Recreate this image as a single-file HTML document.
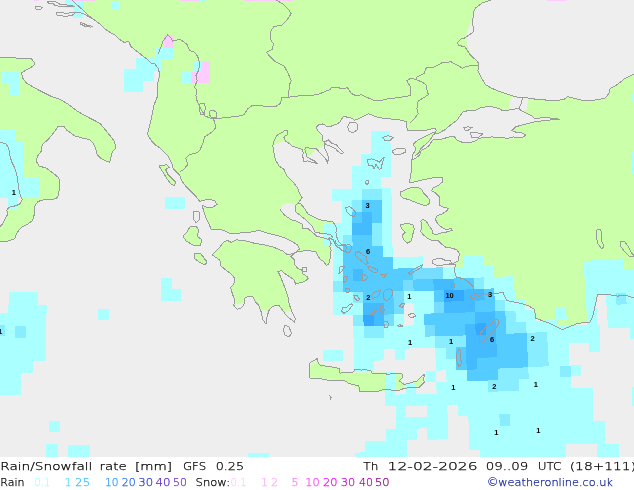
<!DOCTYPE html>
<html><head><meta charset="utf-8"><title>Rain/Snowfall rate [mm] GFS 0.25</title>
<style>
html,body{margin:0;padding:0;background:#fff;}
#w{position:relative;width:634px;height:490px;overflow:hidden;background:#fff;}
.t{position:absolute;font-family:"Liberation Sans",Arial,sans-serif;white-space:nowrap;line-height:1;}
</style></head><body><div id="w">
<svg width="634" height="457" viewBox="0 0 634 457" style="position:absolute;left:0;top:0"><rect width="634" height="457" fill="#ccffaa"/><polygon points="0,0 72,0 76,4 83,10 88,15 93,19 100,24 104,28 108.5,31.5 115,35 119,39 124,42.4 128.7,41.6 131,46.7 137.5,51.7 143.8,56.8 148,60 151,63 155,64 158,68 160,75 157,85 158,95 154,105 151.4,118 148.9,128.1 147.6,134.4 151.4,140.7 156.5,145.8 160,148 163,150.8 168.1,155.9 171.9,163.4 173.1,168.5 176.9,172.3 179.5,174.8 182,181.1 185.8,186.1 190.8,191.2 195.9,196.2 199.6,201.3 205,200 210,199.5 215,201 217,204.5 212,207.5 206,207 202.2,205.1 203.4,210.1 206,217.7 208.5,222.7 211,229 216,229 223.6,230.3 231.2,234 241.3,232.8 251.4,232 259,230.3 266.5,232.8 276.6,235.4 284,237.5 291,241 297,244.5 299.5,249 296,252 290.5,254.4 290.5,254.4 286.7,254.2 282.9,251.1 274.1,247.4 264,244.8 253.9,243.1 246.3,241 236.2,239.8 231.2,242.3 227.4,240.5 223.6,242.3 218.6,248.6 212.3,254.9 212.3,254.9 216,257.5 219.8,260 221.1,266.3 226.1,270.1 231.2,273.9 235,278.9 233.7,284 230.7,287.7 232.4,294 235,300.4 233.7,305.4 237.5,309.2 241.3,307.9 243.8,305.4 245.1,297.8 248.9,296.1 252.6,296.6 255.2,301.6 258.9,305.4 261.5,313 262.7,319.3 266,324.3 267,316.8 269,310.4 272.8,306.2 279.1,305.4 281.7,309.2 285.4,314.2 289.2,318 294.3,321.8 295.5,319.3 291.8,311.7 289.2,304.1 288,296.6 285.4,289 282.9,282.7 280.4,276.4 277.9,271.3 281.7,270.8 285.4,273.9 289.2,276.4 294.3,280.2 295.5,284 300.6,282.7 304.4,281.4 308.2,278.9 306.9,276.4 303.1,273.9 301.8,270.1 298.1,268.8 294.3,263.8 294.3,260 291,256.5 291,256.5 295.5,252.4 301.8,251.1 309.4,250.6 316,252 319.8,259 323.6,261.5 326.1,265.3 328.6,264.1 330.5,257.8 331.1,250.2 329.9,246.4 330.5,242.6 328.6,237.6 333.1,239.7 335.9,245.2 338.6,247.9 341.4,249.8 345,251.6 346.5,248 345,244.3 341.4,244.3 338.6,241.5 336.8,236.9 335.9,232.3 336.7,228.1 334.5,224.2 332.8,221.9 326.1,220.8 319.4,219.7 314.9,217.4 308.1,214.1 303.7,207.3 300.3,203.4 297.5,204 302.1,197.6 299.4,193 297.5,187.5 292.9,182 287.4,176.5 283.8,169.2 279.1,166 275.4,159.6 274.1,153.3 272.8,145.8 283.9,140.2 299.1,149.7 308.5,156.6 315.5,150.3 324.3,145.3 326.8,154.1 323,140.2 320.5,135.2 316.1,127.6 321.8,123.2 325.6,125.1 331.9,125.7 338.2,121.9 343.3,116.5 350.9,117.7 354.6,120.2 360.9,117.7 368.5,113.9 372.3,115.2 378.6,117.7 391.2,119 401.3,120.2 404,121 406.6,122 406.6,126.9 407.9,131 417.2,130.6 424.6,131 427.9,129.8 432.8,128.5 435.6,128.9 436.4,130.6 435.2,132.2 432.8,132.6 429.5,134.2 427,135.5 423,137.5 418.9,139.6 415.6,142 413.6,143.6 414,145.7 415.2,147.3 415.6,149.8 414.8,151.8 413.2,153.4 412.8,155.5 411.9,160 411.9,163.4 411.4,171 409.5,181.6 410.1,182.9 415.2,181.6 426.5,179.1 432.9,177.9 442.3,177.2 442.9,181.6 438.2,185.5 432.7,188.3 431.8,191 435.4,192.8 440,197.4 439.1,201.1 440,205.7 444.6,207.5 448.3,208.4 446.5,211.2 441.9,213.9 437.3,215.8 435.4,219.4 437.3,223.1 440,225.9 443.7,228.6 447.4,229.5 451,228.6 452,230.5 445.5,232.3 440,233.2 435.4,235 432.7,233.2 431.8,229.5 429,225.9 426.3,221.3 422.6,219.4 420.8,221.3 421.7,225.9 420.8,231.4 423.5,235 428.1,238.7 432.7,240.6 438.2,240.6 441.9,244.2 445.5,247 451,247.9 456.6,249.7 459.3,253.4 458.4,260.7 452.9,263.5 449.2,264.4 455.7,264.5 454.1,270.8 456.5,277.1 463.6,278.7 468.3,281.8 473.1,286.5 474,293 489,294.4 499.2,293 503,292.6 506.8,300.7 514.4,302 524.5,304.4 528.3,305.7 534.6,309.5 535.8,318.3 549.7,323.4 562.3,329.7 577.5,323.4 590,322.1 592.6,317 595.1,305.7 597.7,294.4 607.8,294.4 617.8,296.1 625.4,295.1 634,298 634,457 0,457 0,241.5 8,241 13,239.5 15.1,238 16.4,234.1 18.9,230.3 22.7,226.5 27.8,224 32.8,220.2 34.1,215.2 34.1,208.9 35.3,205.3 38.2,201.4 45.1,199.4 52.9,199.4 57.8,197.5 58.8,192.5 59.8,184.7 58.8,177.8 52.9,172.9 46.1,168 39.2,166.1 36.3,161.2 37.3,156.3 41.2,151.4 42.2,144.5 48,139.6 52.9,133.7 57.8,126.9 60.6,126.8 64.4,126.8 66.9,130.6 69.4,131.9 74.4,135.7 80.8,137.7 89.6,139.5 93.4,143.2 95.9,149.5 97.2,154.6 100.9,158.4 106,160.9 109.8,162.2 111,157.1 112.3,152.1 115.6,148.3 114.8,142 111,136.9 106,130.6 100.9,124.3 94.6,120.5 89.6,118 83.3,114.8 75.7,110 67,103.5 60.6,99.7 50.5,96 40.4,91 33,87 26.5,83 22.7,78 21.5,73 25,70.7 31.6,67 34.6,64.4 34,62 31,58.5 0,57.5" fill="#eeeeee"/><polygon points="0,142.5 5.9,143.5 8.8,148.4 9.8,155.3 11.8,162.2 14.7,168 16.7,173.9 17.6,178.8 18.6,188.6 20.6,196.5 22.5,199.4 19.6,204.3 13.7,206.3 8.8,207.3 6.9,210.2 7.8,214.1 5,218.9 2.5,224 0,226.5 0,142.5" fill="#eeeeee"/><polygon points="491,0 482,3 476,7.6 473.7,11.4 470,25 466,35 467.4,45.4 470,52 474,59.3 477.8,61.8 479,65.6 477.8,70.7 481.6,78.2 485.4,84.5 491.7,88.3 499.2,91.4 506.8,93.9 514.4,96.4 522,97.9 527,97.9 533.3,98.9 542.1,99.7 549.7,100.4 557.3,100.2 563.6,99.7 567.4,96.7 569.9,97.2 574.9,98.4 585,100.9 592.6,100.4 600.2,99.2 605.2,97.9 609,93.4 610.3,88.3 615.3,85.8 620.4,82 625.4,78.2 634,73.9 634,0" fill="#eeeeee"/><polygon points="414.8,155.9 417.2,154.2 419.3,152.2 420.5,148.9 423.8,145.7 427,143.2 429.5,140.8 431.9,137.1 433.2,134.2 436,133.8 439.3,133 442.6,131 445,129.8 451,124.7 457.3,120 460.4,115.2 463,112 468.3,110.5 474.6,110.5 481.6,107.3 490.4,106.5 499.2,108.5 503,111 509,110 512,109.5 518.2,108.5 522,111 532,116 534.6,118.6 544.7,117.4 554.8,118.6 560,119.3 554.8,119.6 544.7,120.5 534.6,121.8 524.5,124.3 515.6,126.8 511.9,130.6 516.9,132.6 523.2,133.1 525.7,135.2 522,137.7 513.1,136.9 508.1,138.2 499.2,137.7 491.7,136.9 479,138.2 476.2,140.5 471.5,142.1 463.6,142.8 457.3,140.5 454.1,136.5 446.2,137.3 445,138.3 442.6,138.7 440.1,139.6 436,139.1 433.2,139.6 431.1,142.4 429.5,144.9 427,147.3 425.4,148.5 422.6,149.8 420.5,151.4 420.1,154.2 418.1,156.3 415.6,158.3 411.9,160 412.8,155.5" fill="#eeeeee"/><polygon points="509,110 510,103 511,97.5 522,97.9 528.5,98.5 527.5,104 526.5,110.5 522,111 518.2,108.5" fill="#eeeeee"/><polygon points="295.8,205.1 295.8,211.8 301.4,216.3 307,220.8 311.5,225.3 313.2,228.7 314.9,232 322.7,233.7 330.6,234.3 332.8,237.6 331.7,244.4 329.5,239.9 322.7,237.6 317.1,236.5 314.9,234.3 308.1,228.7 302.5,228.1 302.5,224.2 296.9,221.4 291.3,219.7 284.6,215.2 280.1,209.6 282,205 288,203" fill="#eeeeee"/><polygon points="316,361.2 321,364 328.6,366.3 338.7,367.5 343.8,372.6 384.8,372.6 396,373.5 401.8,373.5 403,377 400,381 404.3,384 417,380.5 422,376 423.5,379.6 419.5,386.5 404.3,388 396.8,390.5 384.8,391.5 360.2,391.5 353.9,386.5 343.8,380.8 332.4,379.5 316,377.6 310,377 309.5,370 311,364" fill="#ccffaa"/><polygon points="159.3,166 166.8,164.7 169.4,167.2 165.6,169.7 168.1,174.8 171.9,178.6 175.7,182.3 174.4,185.6 170.6,183.6 166.8,178.6 163,172.3 160.5,168.5" fill="#ccffaa"/><polygon points="190,227 196,226.5 199,230 197,236 202,240 200,246 193,245 186,241 183,236 187,232" fill="#ccffaa"/><polygon points="195,253 201,254 207,262 205,265 199,262 194,258" fill="#ccffaa"/><polygon points="400.6,191.9 405.2,190.1 408.8,188.3 414.3,187.3 420.8,188.3 423.5,192.8 426.3,195.6 429,199.3 430,202.9 426.3,205.7 421.7,204.8 417.1,202.9 412.5,201.1 407.9,199.3 403.3,198.3 400.6,195.6" fill="#ccffaa"/><polygon points="400.6,225 407,223.1 413.4,225 414.3,229.5 412.5,235 411.6,240.6 407.9,243.3 403.3,239.6 402.4,235 405.2,232.3 401.5,228.6" fill="#ccffaa"/><polygon points="233.7,305.4 237.5,309.2 241.3,307.9 243.8,305.4 244,303 238,304" fill="#eeeeee"/><polygon points="259,310 261.5,313 262.7,319.3 266,324.3 267,316.8 267.5,312 264,310" fill="#eeeeee"/><polygon points="285,313 289.2,318 294.3,321.8 295.5,319.3 293.5,315 291.8,311.7 288,311" fill="#eeeeee"/><g shape-rendering="crispEdges"><rect x="65" y="0" width="18" height="7.6" fill="#aaffff"/><rect x="72.7" y="7.6" width="10.3" height="10.1" fill="#aaffff"/><rect x="111" y="1.3" width="9.2" height="8.8" fill="#aaffff"/><rect x="154.7" y="48" width="19" height="11.3" fill="#aaffff"/><rect x="151" y="59.3" width="11.3" height="11.4" fill="#aaffff"/><rect x="135.8" y="58" width="17.7" height="11.4" fill="#aaffff"/><rect x="124.4" y="69.4" width="29.1" height="11.4" fill="#aaffff"/><rect x="124.4" y="80.8" width="19" height="10.7" fill="#aaffff"/><rect x="192.6" y="60.6" width="8.8" height="11.3" fill="#aaffff"/><rect x="181.2" y="71.9" width="10.1" height="11.4" fill="#aaffff"/><rect x="1.3" y="71" width="18.7" height="12" fill="#aaffff"/><rect x="9.6" y="83" width="9.4" height="11.7" fill="#aaffff"/><rect x="0" y="128.8" width="14.7" height="13.2" fill="#aaffff"/><rect x="0" y="142" width="23.1" height="34.9" fill="#aaffff"/><rect x="0" y="176.9" width="40.2" height="21.5" fill="#aaffff"/><rect x="7.8" y="198.4" width="9.8" height="11.8" fill="#aaffff"/><rect x="9" y="292" width="29" height="13.3" fill="#aaffff"/><rect x="7.9" y="305.3" width="39.5" height="7.2" fill="#aaffff"/><rect x="0" y="312.5" width="45.5" height="48.7" fill="#aaffff"/><rect x="0" y="361.2" width="32.5" height="11.9" fill="#aaffff"/><rect x="0" y="373.1" width="20.8" height="21.7" fill="#aaffff"/><rect x="98.2" y="309" width="10.8" height="10.7" fill="#aaffff"/><rect x="161" y="277.5" width="10.7" height="11.5" fill="#aaffff"/><rect x="161" y="289" width="20.2" height="11.8" fill="#aaffff"/><rect x="165.1" y="197" width="19.9" height="11.9" fill="#aaffff"/><rect x="48.7" y="420.8" width="10.9" height="11.5" fill="#aaffff"/><rect x="46.2" y="444.3" width="11.6" height="12.7" fill="#aaffff"/><rect x="67.9" y="445" width="21.6" height="12" fill="#aaffff"/><rect x="248" y="452.9" width="20.8" height="4.1" fill="#aaffff"/><rect x="631" y="93" width="3" height="8" fill="#aaffff"/><rect x="199.1" y="0" width="6.3" height="0.8" fill="#aaffff"/><rect x="631" y="151" width="3" height="22" fill="#aaffff"/><rect x="554" y="325" width="45.8" height="17.5" fill="#aaffff"/><rect x="554" y="342.5" width="14.8" height="22.9" fill="#aaffff"/><rect x="589" y="342.5" width="10.8" height="9.5" fill="#aaffff"/><rect x="554" y="365.4" width="6" height="11.4" fill="#aaffff"/><rect x="570.7" y="365.4" width="10.3" height="10.8" fill="#aaffff"/><rect x="554" y="376.8" width="16.7" height="11.5" fill="#aaffff"/><rect x="554" y="388.3" width="39" height="32.4" fill="#aaffff"/><rect x="554" y="420.7" width="51.2" height="22.9" fill="#aaffff"/><rect x="554" y="443.6" width="12" height="13.4" fill="#aaffff"/><rect x="597" y="443.6" width="21.7" height="13.4" fill="#aaffff"/><rect x="632" y="387" width="2" height="19" fill="#aaffff"/><rect x="609" y="325" width="20" height="2.7" fill="#aaffff"/><rect x="629.5" y="325" width="4.5" height="13.5" fill="#aaffff"/><rect x="560" y="366" width="10.7" height="10.8" fill="#88eeff"/><rect x="0" y="325" width="5.4" height="11" fill="#88eeff"/><rect x="15.2" y="326.2" width="10.8" height="11.6" fill="#88eeff"/><rect x="163.6" y="35.3" width="10.1" height="12.7" fill="#ffccff"/><rect x="201.4" y="60.6" width="8.6" height="22.7" fill="#ffccff"/><rect x="191.3" y="71.9" width="10.1" height="11.4" fill="#ffccff"/><rect x="34" y="0" width="5" height="0.8" fill="#ffccff"/><rect x="70.4" y="0" width="25.2" height="0.8" fill="#ffccff"/><rect x="179.5" y="0" width="20.1" height="1" fill="#ffccff"/><rect x="242.5" y="0" width="51.8" height="1" fill="#ffccff"/><rect x="547" y="0" width="20" height="1" fill="#ffccff"/><path fill="#aaffff" d="M370.8,131.4 L380.6,131.2 L380.8,142.7 L371,142.8Z M380.6,131.2 L390.3,131 L390.5,142.5 L380.8,142.7Z M371,142.8 L380.8,142.7 L381,154.1 L371.2,154.3Z M380.8,142.7 L390.5,142.5 L390.7,153.9 L381,154.1Z M361.4,154.4 L371.2,154.3 L371.3,165.7 L361.5,165.9Z M371.2,154.3 L381,154.1 L381.1,165.6 L371.3,165.7Z M381,154.1 L390.7,153.9 L391,165.4 L381.1,165.6Z M351.7,166 L361.5,165.9 L361.7,177.3 L351.8,177.5Z M361.5,165.9 L371.3,165.7 L371.5,177.2 L361.7,177.3Z M371.3,165.7 L381.1,165.6 L381.3,177 L371.5,177.2Z M381.1,165.6 L391,165.4 L391.2,176.9 L381.3,177Z M351.8,177.5 L361.7,177.3 L361.8,188.8 L352,188.9Z M361.7,177.3 L371.5,177.2 L371.7,188.7 L361.8,188.8Z M371.5,177.2 L381.3,177 L381.5,188.5 L371.7,188.7Z M332.2,189.1 L342.1,189 L342.2,200.5 L332.3,200.5Z M342.1,189 L352,188.9 L352.1,200.4 L342.2,200.5Z M352,188.9 L361.8,188.8 L362,200.3 L352.1,200.4Z M381.5,188.5 L391.4,188.3 L391.6,199.8 L381.7,200Z M342.2,200.5 L352.1,200.4 L352.2,211.8 L342.3,211.9Z M381.7,200 L391.6,199.8 L391.8,211.3 L381.9,211.4Z M342.3,211.9 L352.2,211.8 L352.3,223.3 L342.4,223.4Z M381.9,211.4 L391.8,211.3 L392.1,222.7 L382.1,222.9Z M322.5,223.5 L332.4,223.5 L332.5,234.9 L322.6,235Z M332.4,223.5 L342.4,223.4 L342.5,234.9 L332.5,234.9Z M342.4,223.4 L352.3,223.3 L352.4,234.8 L342.5,234.9Z M382.1,222.9 L392.1,222.7 L392.3,234.2 L382.3,234.4Z M322.6,235 L332.5,234.9 L332.6,246.4 L322.6,246.4Z M332.5,234.9 L342.5,234.9 L342.6,246.3 L332.6,246.4Z M382.3,234.4 L392.3,234.2 L392.5,245.6 L382.5,245.8Z M332.6,246.4 L342.6,246.3 L342.7,257.8 L332.7,257.9Z M382.5,245.8 L392.5,245.6 L392.7,257.1 L382.7,257.3Z M332.7,257.9 L342.7,257.8 L342.8,269.3 L332.7,269.3Z M392.7,257.1 L402.7,256.9 L403,268.4 L392.9,268.6Z M402.7,256.9 L412.7,256.7 L413,268.1 L403,268.4Z M412.7,256.7 L422.8,256.4 L423,267.9 L413,268.1Z M462.8,255.2 L472.8,254.9 L473.2,266.3 L463.2,266.7Z M472.8,254.9 L482.8,254.5 L483.2,265.9 L473.2,266.3Z M332.7,269.3 L342.8,269.3 L342.9,280.7 L332.8,280.8Z M443.1,267.3 L453.1,267 L453.5,278.5 L443.5,278.8Z M453.1,267 L463.2,266.7 L463.6,278.1 L453.5,278.5Z M463.2,266.7 L473.2,266.3 L473.6,277.8 L463.6,278.1Z M473.2,266.3 L483.2,265.9 L483.7,277.4 L473.6,277.8Z M483.2,265.9 L493.3,265.5 L493.7,277 L483.7,277.4Z M483.7,277.4 L493.7,277 L494.2,288.4 L484.1,288.8Z M493.7,277 L503.8,276.6 L504.3,288 L494.2,288.4Z M503.8,276.6 L513.8,276.1 L514.4,287.6 L504.3,288Z M332.9,292.2 L343,292.2 L343,303.6 L332.9,303.7Z M343,292.2 L353,292.1 L353.2,303.5 L343,303.6Z M403.5,291.3 L413.6,291 L413.8,302.5 L403.7,302.7Z M413.6,291 L423.6,290.8 L423.9,302.3 L413.8,302.5Z M423.6,290.8 L433.7,290.5 L434,302 L423.9,302.3Z M494.2,288.4 L504.3,288 L504.8,299.5 L494.7,299.9Z M504.3,288 L514.4,287.6 L514.9,299 L504.8,299.5Z M332.9,303.7 L343,303.6 L343.1,315.1 L333,315.2Z M343,303.6 L353.2,303.5 L353.3,315 L343.1,315.1Z M353.2,303.5 L363.3,303.4 L363.4,314.9 L353.3,315Z M413.8,302.5 L423.9,302.3 L424.2,313.7 L414.1,314Z M423.9,302.3 L434,302 L434.4,313.4 L424.2,313.7Z M504.8,299.5 L514.9,299 L515.4,310.5 L505.3,310.9Z M514.9,299 L525,298.6 L525.5,310 L515.4,310.5Z M393.8,314.4 L404,314.2 L404.2,325.7 L394,325.9Z M414.1,314 L424.2,313.7 L424.5,325.2 L414.4,325.4Z M515.4,310.5 L525.5,310 L526.1,321.5 L515.9,321.9Z M525.5,310 L535.6,309.5 L536.2,321 L526.1,321.5Z M353.4,326.5 L363.6,326.4 L363.7,337.8 L353.5,337.9Z M383.9,326 L394,325.9 L394.3,337.3 L384.1,337.5Z M394,325.9 L404.2,325.7 L404.4,337.1 L394.3,337.3Z M404.2,325.7 L414.4,325.4 L414.6,336.9 L404.4,337.1Z M414.4,325.4 L424.5,325.2 L424.8,336.6 L414.6,336.9Z M526.1,321.5 L536.2,321 L536.8,332.4 L526.6,332.9Z M353.5,337.9 L363.7,337.8 L363.9,349.3 L353.6,349.4Z M363.7,337.8 L373.9,337.7 L374.1,349.1 L363.9,349.3Z M373.9,337.7 L384.1,337.5 L384.3,349 L374.1,349.1Z M384.1,337.5 L394.3,337.3 L394.5,348.8 L384.3,349Z M394.3,337.3 L404.4,337.1 L404.7,348.6 L394.5,348.8Z M404.4,337.1 L414.6,336.9 L414.9,348.4 L404.7,348.6Z M414.6,336.9 L424.8,336.6 L425.1,348.1 L414.9,348.4Z M424.8,336.6 L435,336.4 L435.3,347.8 L425.1,348.1Z M323,349.6 L333.2,349.6 L333.3,361 L323.1,361.1Z M333.2,349.6 L343.4,349.5 L343.5,361 L333.3,361Z M353.6,349.4 L363.9,349.3 L364,360.7 L353.8,360.9Z M363.9,349.3 L374.1,349.1 L374.2,360.6 L364,360.7Z M374.1,349.1 L384.3,349 L384.5,360.4 L374.2,360.6Z M394.5,348.8 L404.7,348.6 L404.9,360 L394.7,360.2Z M435.3,347.8 L445.5,347.5 L445.9,359 L435.6,359.3Z M353.8,360.9 L364,360.7 L364.1,372.2 L353.9,372.3Z M364,360.7 L374.2,360.6 L374.4,372.1 L364.1,372.2Z M435.6,359.3 L445.9,359 L446.2,370.4 L436,370.7Z M445.9,359 L456.1,358.7 L456.5,370.1 L446.2,370.4Z M384.7,371.9 L394.9,371.7 L395.1,383.2 L384.9,383.4Z M425.7,371 L436,370.7 L436.3,382.2 L426,382.5Z M446.2,370.4 L456.5,370.1 L456.8,381.6 L446.6,381.9Z M456.5,370.1 L466.7,369.8 L467.1,381.2 L456.8,381.6Z M384.9,383.4 L395.1,383.2 L395.4,394.6 L385.1,394.8Z M405.4,383 L415.7,382.7 L416,394.2 L405.7,394.4Z M436.3,382.2 L446.6,381.9 L446.9,393.4 L436.6,393.7Z M446.6,381.9 L456.8,381.6 L457.2,393 L446.9,393.4Z M456.8,381.6 L467.1,381.2 L467.5,392.7 L457.2,393Z M467.1,381.2 L477.4,380.9 L477.8,392.3 L467.5,392.7Z M477.4,380.9 L487.7,380.5 L488.1,391.9 L477.8,392.3Z M385.1,394.8 L395.4,394.6 L395.6,406.1 L385.3,406.3Z M395.4,394.6 L405.7,394.4 L405.9,405.9 L395.6,406.1Z M405.7,394.4 L416,394.2 L416.3,405.7 L405.9,405.9Z M416,394.2 L426.3,393.9 L426.6,405.4 L416.3,405.7Z M426.3,393.9 L436.6,393.7 L436.9,405.1 L426.6,405.4Z M436.6,393.7 L446.9,393.4 L447.3,404.8 L436.9,405.1Z M446.9,393.4 L457.2,393 L457.6,404.5 L447.3,404.8Z M457.2,393 L467.5,392.7 L467.9,404.2 L457.6,404.5Z M467.5,392.7 L477.8,392.3 L478.2,403.8 L467.9,404.2Z M477.8,392.3 L488.1,391.9 L488.6,403.4 L478.2,403.8Z M488.1,391.9 L498.4,391.5 L498.9,403 L488.6,403.4Z M498.4,391.5 L508.7,391.1 L509.2,402.5 L498.9,403Z M508.7,391.1 L519,390.6 L519.6,402.1 L509.2,402.5Z M519,390.6 L529.3,390.2 L529.9,401.6 L519.6,402.1Z M529.3,390.2 L539.6,389.7 L540.2,401.1 L529.9,401.6Z M539.6,389.7 L549.9,389.1 L550.5,400.6 L540.2,401.1Z M549.9,389.1 L560.2,388.6 L560.9,400 L550.5,400.6Z M395.6,406.1 L405.9,405.9 L406.2,417.3 L395.8,417.6Z M426.6,405.4 L436.9,405.1 L437.2,416.6 L426.9,416.9Z M436.9,405.1 L447.3,404.8 L447.6,416.3 L437.2,416.6Z M457.6,404.5 L467.9,404.2 L468.3,415.6 L458,416Z M467.9,404.2 L478.2,403.8 L478.7,415.2 L468.3,415.6Z M478.2,403.8 L488.6,403.4 L489,414.8 L478.7,415.2Z M488.6,403.4 L498.9,403 L499.4,414.4 L489,414.8Z M498.9,403 L509.2,402.5 L509.7,414 L499.4,414.4Z M509.2,402.5 L519.6,402.1 L520.1,413.5 L509.7,414Z M519.6,402.1 L529.9,401.6 L530.4,413.1 L520.1,413.5Z M529.9,401.6 L540.2,401.1 L540.8,412.6 L530.4,413.1Z M540.2,401.1 L550.5,400.6 L551.1,412 L540.8,412.6Z M550.5,400.6 L560.9,400 L561.5,411.5 L551.1,412Z M395.8,417.6 L406.2,417.3 L406.4,428.8 L396,429Z M406.2,417.3 L416.5,417.1 L416.8,428.6 L406.4,428.8Z M416.5,417.1 L426.9,416.9 L427.2,428.3 L416.8,428.6Z M426.9,416.9 L437.2,416.6 L437.6,428 L427.2,428.3Z M437.2,416.6 L447.6,416.3 L447.9,427.7 L437.6,428Z M468.3,415.6 L478.7,415.2 L479.1,426.7 L468.7,427.1Z M478.7,415.2 L489,414.8 L489.5,426.3 L479.1,426.7Z M489,414.8 L499.4,414.4 L499.8,425.9 L489.5,426.3Z M509.7,414 L520.1,413.5 L520.6,425 L510.2,425.5Z M520.1,413.5 L530.4,413.1 L531,424.5 L520.6,425Z M530.4,413.1 L540.8,412.6 L541.3,424 L531,424.5Z M540.8,412.6 L551.1,412 L551.7,423.5 L541.3,424Z M551.1,412 L561.5,411.5 L562.1,422.9 L551.7,423.5Z M385.6,429.2 L396,429 L396.2,440.5 L385.8,440.7Z M396,429 L406.4,428.8 L406.7,440.3 L396.2,440.5Z M406.4,428.8 L416.8,428.6 L417.1,440 L406.7,440.3Z M427.2,428.3 L437.6,428 L437.9,439.5 L427.5,439.8Z M437.6,428 L447.9,427.7 L448.3,439.2 L437.9,439.5Z M468.7,427.1 L479.1,426.7 L479.5,438.2 L469.1,438.5Z M479.1,426.7 L489.5,426.3 L489.9,437.8 L479.5,438.2Z M489.5,426.3 L499.8,425.9 L500.3,437.3 L489.9,437.8Z M499.8,425.9 L510.2,425.5 L510.7,436.9 L500.3,437.3Z M510.2,425.5 L520.6,425 L521.1,436.4 L510.7,436.9Z M520.6,425 L531,424.5 L531.5,436 L521.1,436.4Z M531,424.5 L541.3,424 L541.9,435.5 L531.5,436Z M541.3,424 L551.7,423.5 L552.3,434.9 L541.9,435.5Z M551.7,423.5 L562.1,422.9 L562.7,434.4 L552.3,434.9Z M385.8,440.7 L396.2,440.5 L396.5,451.9 L386,452.1Z M396.2,440.5 L406.7,440.3 L406.9,451.7 L396.5,451.9Z M469.1,438.5 L479.5,438.2 L479.9,449.6 L469.5,450Z M479.5,438.2 L489.9,437.8 L490.4,449.2 L479.9,449.6Z M489.9,437.8 L500.3,437.3 L500.8,448.8 L490.4,449.2Z M500.3,437.3 L510.7,436.9 L511.2,448.4 L500.8,448.8Z M510.7,436.9 L521.1,436.4 L521.6,447.9 L511.2,448.4Z M521.1,436.4 L531.5,436 L532.1,447.4 L521.6,447.9Z M531.5,436 L541.9,435.5 L542.5,446.9 L532.1,447.4Z M541.9,435.5 L552.3,434.9 L552.9,446.4 L542.5,446.9Z M552.3,434.9 L562.7,434.4 L563.3,445.8 L552.9,446.4Z M386,452.1 L396.5,451.9 L396.7,463.4 L386.2,463.6Z M396.5,451.9 L406.9,451.7 L407.1,463.2 L396.7,463.4Z M479.9,449.6 L490.4,449.2 L490.8,460.7 L480.3,461.1Z M490.4,449.2 L500.8,448.8 L501.3,460.3 L490.8,460.7Z M500.8,448.8 L511.2,448.4 L511.7,459.8 L501.3,460.3Z M511.2,448.4 L521.6,447.9 L522.2,459.3 L511.7,459.8Z M521.6,447.9 L532.1,447.4 L532.6,458.9 L522.2,459.3Z M532.1,447.4 L542.5,446.9 L543.1,458.4 L532.6,458.9Z M542.5,446.9 L552.9,446.4 L553.5,457.8 L543.1,458.4Z M552.9,446.4 L563.3,445.8 L563.9,457.3 L553.5,457.8Z M365,441 L375.4,440.8 L375.6,452.3 L365.2,452.4Z M375.4,440.8 L385.8,440.7 L386,452.1 L375.6,452.3Z M354.7,452.6 L365.2,452.4 L365.3,463.9 L354.8,464Z M365.2,452.4 L375.6,452.3 L375.8,463.8 L365.3,463.9Z M375.6,452.3 L386,452.1 L386.2,463.6 L375.8,463.8Z M536.2,321 L546.4,320.4 L547,331.9 L536.8,332.4Z M546.4,320.4 L556.5,319.9 L557.1,331.4 L547,331.9Z M547,331.9 L557.1,331.4 L557.8,342.8 L547.6,343.3Z M547.6,343.3 L557.8,342.8 L558.4,354.2 L548.2,354.8Z M548.2,354.8 L558.4,354.2 L559,365.7 L548.7,366.2Z M528.2,367.3 L538.5,366.8 L539.1,378.2 L528.8,378.7Z M538.5,366.8 L548.7,366.2 L549.3,377.7 L539.1,378.2Z M548.7,366.2 L559,365.7 L559.6,377.1 L549.3,377.7Z M528.8,378.7 L539.1,378.2 L539.6,389.7 L529.3,390.2Z M539.1,378.2 L549.3,377.7 L549.9,389.1 L539.6,389.7Z M549.3,377.7 L559.6,377.1 L560.2,388.6 L549.9,389.1Z M583.5,261 L593.5,260.3 L594.2,271.8 L584.2,272.4Z M593.5,260.3 L603.5,259.7 L604.3,271.1 L594.2,271.8Z M603.5,259.7 L613.5,259 L614.3,270.5 L604.3,271.1Z M613.5,259 L623.5,258.3 L624.3,269.8 L614.3,270.5Z M584.2,272.4 L594.2,271.8 L594.9,283.2 L584.9,283.8Z M594.2,271.8 L604.3,271.1 L605,282.6 L594.9,283.2Z M604.3,271.1 L614.3,270.5 L615.1,281.9 L605,282.6Z M614.3,270.5 L624.3,269.8 L625.1,281.2 L615.1,281.9Z M624.3,269.8 L634.4,269.1 L635.2,280.5 L625.1,281.2Z M584.9,283.8 L594.9,283.2 L595.7,294.7 L585.6,295.3Z M594.9,283.2 L605,282.6 L605.7,294 L595.7,294.7Z M605,282.6 L615.1,281.9 L615.8,293.3 L605.7,294Z M615.1,281.9 L625.1,281.2 L625.9,292.7 L615.8,293.3Z M625.1,281.2 L635.2,280.5 L636,291.9 L625.9,292.7Z M585.6,295.3 L595.7,294.7 L596.4,306.1 L586.3,306.7Z M605.7,294 L615.8,293.3 L616.6,304.8 L606.5,305.5Z M625.9,292.7 L636,291.9 L636.8,303.4 L626.7,304.1Z M555.9,308.5 L566,307.9 L566.7,319.4 L556.5,319.9Z M586.3,306.7 L596.4,306.1 L597.1,317.5 L587,318.2Z M606.5,305.5 L616.6,304.8 L617.4,316.2 L607.2,316.9Z M616.6,304.8 L626.7,304.1 L627.5,315.5 L617.4,316.2Z M626.7,304.1 L636.8,303.4 L637.6,314.8 L627.5,315.5Z M587,318.2 L597.1,317.5 L597.8,329 L587.6,329.6Z M607.2,316.9 L617.4,316.2 L618.1,327.7 L608,328.3Z M617.4,316.2 L627.5,315.5 L628.3,327 L618.1,327.7Z M627.5,315.5 L637.6,314.8 L638.5,326.2 L628.3,327Z M518.5,379.2 L528.8,378.7 L529.3,390.2 L519,390.6Z"/><path fill="#88eeff" d="M361.8,188.8 L371.7,188.7 L371.8,200.1 L362,200.3Z M371.7,188.7 L381.5,188.5 L381.7,200 L371.8,200.1Z M352.1,200.4 L362,200.3 L362.1,211.7 L352.2,211.8Z M372.2,223.1 L382.1,222.9 L382.3,234.4 L372.4,234.5Z M342.5,234.9 L352.4,234.8 L352.6,246.2 L342.6,246.3Z M372.4,234.5 L382.3,234.4 L382.5,245.8 L372.5,246Z M332.8,280.8 L342.9,280.7 L343,292.2 L332.9,292.2Z M473.6,277.8 L483.7,277.4 L484.1,288.8 L474,289.2Z M353,292.1 L363.1,292 L363.3,303.4 L353.2,303.5Z M494.7,299.9 L504.8,299.5 L505.3,310.9 L495.1,311.4Z M353.3,315 L363.4,314.9 L363.6,326.4 L353.4,326.5Z M505.3,310.9 L515.4,310.5 L515.9,321.9 L505.8,322.4Z M363.6,326.4 L373.7,326.2 L373.9,337.7 L363.7,337.8Z M373.7,326.2 L383.9,326 L384.1,337.5 L373.9,337.7Z M505.8,322.4 L515.9,321.9 L516.4,333.4 L506.3,333.8Z M515.9,321.9 L526.1,321.5 L526.6,332.9 L516.4,333.4Z M435,336.4 L445.2,336.1 L445.5,347.5 L435.3,347.8Z M445.2,336.1 L455.4,335.8 L455.7,347.2 L445.5,347.5Z M455.4,335.8 L465.5,335.4 L465.9,346.9 L455.7,347.2Z M445.5,347.5 L455.7,347.2 L456.1,358.7 L445.9,359Z M487.7,380.5 L498,380.1 L498.4,391.5 L488.1,391.9Z M498,380.1 L508.2,379.6 L508.7,391.1 L498.4,391.5Z M508.2,379.6 L518.5,379.2 L519,390.6 L508.7,391.1Z M499.4,414.4 L509.7,414 L510.2,425.5 L499.8,425.9Z M497.5,368.6 L507.7,368.2 L508.2,379.6 L498,380.1Z M507.7,368.2 L518,367.7 L518.5,379.2 L508.2,379.6Z M518,367.7 L528.2,367.3 L528.8,378.7 L518.5,379.2Z M526.6,332.9 L536.8,332.4 L537.4,343.9 L527.2,344.4Z M536.8,332.4 L547,331.9 L547.6,343.3 L537.4,343.9Z M527.2,344.4 L537.4,343.9 L537.9,355.3 L527.7,355.8Z M537.4,343.9 L547.6,343.3 L548.2,354.8 L537.9,355.3Z M527.7,355.8 L537.9,355.3 L538.5,366.8 L528.2,367.3Z M537.9,355.3 L548.2,354.8 L548.7,366.2 L538.5,366.8Z M615.8,293.3 L625.9,292.7 L626.7,304.1 L616.6,304.8Z"/><path fill="#77ddff" d="M413,268.1 L423,267.9 L423.3,279.3 L413.3,279.6Z M423,267.9 L433.1,267.6 L433.4,279.1 L423.3,279.3Z M433.1,267.6 L443.1,267.3 L443.5,278.8 L433.4,279.1Z M403.2,279.8 L413.3,279.6 L413.6,291 L403.5,291.3Z M393.4,291.5 L403.5,291.3 L403.7,302.7 L393.6,302.9Z M393.6,302.9 L403.7,302.7 L404,314.2 L393.8,314.4Z M434,302 L444.1,301.7 L444.5,313.2 L434.4,313.4Z M383.7,314.6 L393.8,314.4 L394,325.9 L383.9,326Z M424.5,325.2 L434.7,324.9 L435,336.4 L424.8,336.6Z"/><path fill="#55ccff" d="M362,200.3 L371.8,200.1 L372,211.6 L362.1,211.7Z M371.8,200.1 L381.7,200 L381.9,211.4 L372,211.6Z M352.2,211.8 L362.1,211.7 L362.3,223.2 L352.3,223.3Z M372,211.6 L381.9,211.4 L382.1,222.9 L372.2,223.1Z M352.4,234.8 L362.4,234.7 L362.5,246.1 L352.6,246.2Z M362.4,234.7 L372.4,234.5 L372.5,246 L362.5,246.1Z M342.6,246.3 L352.6,246.2 L352.7,257.7 L342.7,257.8Z M352.6,246.2 L362.5,246.1 L362.7,257.6 L352.7,257.7Z M362.5,246.1 L372.5,246 L372.7,257.4 L362.7,257.6Z M372.5,246 L382.5,245.8 L382.7,257.3 L372.7,257.4Z M342.7,257.8 L352.7,257.7 L352.8,269.2 L342.8,269.3Z M352.7,257.7 L362.7,257.6 L362.8,269 L352.8,269.2Z M362.7,257.6 L372.7,257.4 L372.9,268.9 L362.8,269Z M372.7,257.4 L382.7,257.3 L382.9,268.7 L372.9,268.9Z M382.7,257.3 L392.7,257.1 L392.9,268.6 L382.9,268.7Z M342.8,269.3 L352.8,269.2 L352.9,280.6 L342.9,280.7Z M362.8,269 L372.9,268.9 L373,280.4 L363,280.5Z M372.9,268.9 L382.9,268.7 L383.1,280.2 L373,280.4Z M382.9,268.7 L392.9,268.6 L393.2,280 L383.1,280.2Z M392.9,268.6 L403,268.4 L403.2,279.8 L393.2,280Z M403,268.4 L413,268.1 L413.3,279.6 L403.2,279.8Z M342.9,280.7 L352.9,280.6 L353,292.1 L343,292.2Z M352.9,280.6 L363,280.5 L363.1,292 L353,292.1Z M363,280.5 L373,280.4 L373.2,291.8 L363.1,292Z M373,280.4 L383.1,280.2 L383.3,291.7 L373.2,291.8Z M383.1,280.2 L393.2,280 L393.4,291.5 L383.3,291.7Z M393.2,280 L403.2,279.8 L403.5,291.3 L393.4,291.5Z M413.3,279.6 L423.3,279.3 L423.6,290.8 L413.6,291Z M423.3,279.3 L433.4,279.1 L433.7,290.5 L423.6,290.8Z M453.5,278.5 L463.6,278.1 L464,289.6 L453.9,289.9Z M463.6,278.1 L473.6,277.8 L474,289.2 L464,289.6Z M363.1,292 L373.2,291.8 L373.4,303.3 L363.3,303.4Z M373.2,291.8 L383.3,291.7 L383.5,303.1 L373.4,303.3Z M383.3,291.7 L393.4,291.5 L393.6,302.9 L383.5,303.1Z M433.7,290.5 L443.8,290.2 L444.1,301.7 L434,302Z M484.1,288.8 L494.2,288.4 L494.7,299.9 L484.6,300.3Z M383.5,303.1 L393.6,302.9 L393.8,314.4 L383.7,314.6Z M474.5,300.7 L484.6,300.3 L485,311.8 L474.9,312.1Z M484.6,300.3 L494.7,299.9 L495.1,311.4 L485,311.8Z M424.2,313.7 L434.4,313.4 L434.7,324.9 L424.5,325.2Z M434.4,313.4 L444.5,313.2 L444.8,324.6 L434.7,324.9Z M444.5,313.2 L454.6,312.8 L455,324.3 L444.8,324.6Z M454.6,312.8 L464.8,312.5 L465.2,324 L455,324.3Z M464.8,312.5 L474.9,312.1 L475.3,323.6 L465.2,324Z M495.1,311.4 L505.3,310.9 L505.8,322.4 L495.6,322.8Z M434.7,324.9 L444.8,324.6 L445.2,336.1 L435,336.4Z M444.8,324.6 L455,324.3 L455.4,335.8 L445.2,336.1Z M455,324.3 L465.2,324 L465.5,335.4 L455.4,335.8Z M495.6,322.8 L505.8,322.4 L506.3,333.8 L496.1,334.3Z M455.7,347.2 L465.9,346.9 L466.3,358.3 L456.1,358.7Z M456.1,358.7 L466.3,358.3 L466.7,369.8 L456.5,370.1Z M466.7,369.8 L477,369.4 L477.4,380.9 L467.1,381.2Z M477,369.4 L487.2,369 L487.7,380.5 L477.4,380.9Z M496.1,334.3 L506.3,333.8 L506.8,345.3 L496.6,345.7Z M496.6,345.7 L506.8,345.3 L507.3,356.7 L497,357.2Z M506.3,333.8 L516.4,333.4 L517,344.8 L506.8,345.3Z M516.4,333.4 L526.6,332.9 L527.2,344.4 L517,344.8Z M506.8,345.3 L517,344.8 L517.5,356.3 L507.3,356.7Z M517,344.8 L527.2,344.4 L527.7,355.8 L517.5,356.3Z M476.6,358 L486.8,357.6 L487.2,369 L477,369.4Z M486.8,357.6 L497,357.2 L497.5,368.6 L487.2,369Z M497,357.2 L507.3,356.7 L507.7,368.2 L497.5,368.6Z M507.3,356.7 L517.5,356.3 L518,367.7 L507.7,368.2Z M517.5,356.3 L527.7,355.8 L528.2,367.3 L518,367.7Z M487.2,369 L497.5,368.6 L498,380.1 L487.7,380.5Z"/><path fill="#44bbff" d="M362.1,211.7 L372,211.6 L372.2,223.1 L362.3,223.2Z M352.3,223.3 L362.3,223.2 L362.4,234.7 L352.4,234.8Z M362.3,223.2 L372.2,223.1 L372.4,234.5 L362.4,234.7Z M352.8,269.2 L362.8,269 L363,280.5 L352.9,280.6Z M433.4,279.1 L443.5,278.8 L443.8,290.2 L433.7,290.5Z M443.5,278.8 L453.5,278.5 L453.9,289.9 L443.8,290.2Z M464,289.6 L474,289.2 L474.5,300.7 L464.4,301Z M474,289.2 L484.1,288.8 L484.6,300.3 L474.5,300.7Z M363.3,303.4 L373.4,303.3 L373.6,314.7 L363.4,314.9Z M373.4,303.3 L383.5,303.1 L383.7,314.6 L373.6,314.7Z M444.1,301.7 L454.3,301.4 L454.6,312.8 L444.5,313.2Z M454.3,301.4 L464.4,301 L464.8,312.5 L454.6,312.8Z M464.4,301 L474.5,300.7 L474.9,312.1 L464.8,312.5Z M373.6,314.7 L383.7,314.6 L383.9,326 L373.7,326.2Z M474.9,312.1 L485,311.8 L485.5,323.2 L475.3,323.6Z M485,311.8 L495.1,311.4 L495.6,322.8 L485.5,323.2Z M485.5,323.2 L495.6,322.8 L496.1,334.3 L485.9,334.7Z M465.2,324 L475.3,323.6 L475.7,335.1 L465.5,335.4Z M465.5,335.4 L475.7,335.1 L476.1,346.5 L465.9,346.9Z M465.9,346.9 L476.1,346.5 L476.6,358 L466.3,358.3Z M466.3,358.3 L476.6,358 L477,369.4 L466.7,369.8Z M475.7,335.1 L485.9,334.7 L486.3,346.1 L476.1,346.5Z M485.9,334.7 L496.1,334.3 L496.6,345.7 L486.3,346.1Z M476.1,346.5 L486.3,346.1 L486.8,357.6 L476.6,358Z M486.3,346.1 L496.6,345.7 L497,357.2 L486.8,357.6Z"/><path fill="#33aaff" d="M443.8,290.2 L453.9,289.9 L454.3,301.4 L444.1,301.7Z M453.9,289.9 L464,289.6 L464.4,301 L454.3,301.4Z M363.4,314.9 L373.6,314.7 L373.7,326.2 L363.6,326.4Z M475.3,323.6 L485.5,323.2 L485.9,334.7 L475.7,335.1Z"/></g><g fill="none" stroke="#9c9b9c" stroke-width="1" stroke-linejoin="miter" shape-rendering="crispEdges"><polyline points="0,57.5 31,58.5 34,62 34.6,64.4 31.6,67 25,70.7 21.5,73 22.7,78 26.5,83 33,87 40.4,91 50.5,96 60.6,99.7 67,103.5 75.7,110 83.3,114.8 89.6,118 94.6,120.5 100.9,124.3 106,130.6 111,136.9 114.8,142 115.6,148.3 112.3,152.1 111,157.1 109.8,162.2 106,160.9 100.9,158.4 97.2,154.6 95.9,149.5 93.4,143.2 89.6,139.5 80.8,137.7 74.4,135.7 69.4,131.9 66.9,130.6 64.4,126.8 60.6,126.8 57.8,126.9 52.9,133.7 48,139.6 42.2,144.5 41.2,151.4 37.3,156.3 36.3,161.2 39.2,166.1 46.1,168 52.9,172.9 58.8,177.8 59.8,184.7 58.8,192.5 57.8,197.5 52.9,199.4 45.1,199.4 38.2,201.4 35.3,205.3 34.1,208.9 34.1,215.2 32.8,220.2 27.8,224 22.7,226.5 18.9,230.3 16.4,234.1 15.1,238 13,239.5 8,241 0,241.5"/><polyline points="0,142.5 5.9,143.5 8.8,148.4 9.8,155.3 11.8,162.2 14.7,168 16.7,173.9 17.6,178.8 18.6,188.6 20.6,196.5 22.5,199.4 19.6,204.3 13.7,206.3 8.8,207.3 6.9,210.2 7.8,214.1 5,218.9 2.5,224 0,226.5"/><polyline points="72,0 76,4 83,10 88,15 93,19 100,24 104,28 108.5,31.5 115,35 119,39 124,42.4 128.7,41.6 131,46.7 137.5,51.7 143.8,56.8 148,60 151,63 155,64 158,68 160,75 157,85 158,95 154,105 151.4,118 148.9,128.1 147.6,134.4 151.4,140.7 156.5,145.8 160,148 163,150.8 168.1,155.9 171.9,163.4 173.1,168.5 176.9,172.3 179.5,174.8 182,181.1 185.8,186.1 190.8,191.2 195.9,196.2 199.6,201.3 205,200 210,199.5 215,201 217,204.5 212,207.5 206,207 202.2,205.1 203.4,210.1 206,217.7 208.5,222.7 211,229 216,229 223.6,230.3 231.2,234 241.3,232.8 251.4,232 259,230.3 266.5,232.8 276.6,235.4 284,237.5 291,241 297,244.5 299.5,249 296,252 290.5,254.4 290.5,254.4 286.7,254.2 282.9,251.1 274.1,247.4 264,244.8 253.9,243.1 246.3,241 236.2,239.8 231.2,242.3 227.4,240.5 223.6,242.3 218.6,248.6 212.3,254.9"/><polyline points="212.3,254.9 216,257.5 219.8,260 221.1,266.3 226.1,270.1 231.2,273.9 235,278.9 233.7,284 230.7,287.7 232.4,294 235,300.4 233.7,305.4 237.5,309.2 241.3,307.9 243.8,305.4 245.1,297.8 248.9,296.1 252.6,296.6 255.2,301.6 258.9,305.4 261.5,313 262.7,319.3 266,324.3 267,316.8 269,310.4 272.8,306.2 279.1,305.4 281.7,309.2 285.4,314.2 289.2,318 294.3,321.8 295.5,319.3 291.8,311.7 289.2,304.1 288,296.6 285.4,289 282.9,282.7 280.4,276.4 277.9,271.3 281.7,270.8 285.4,273.9 289.2,276.4 294.3,280.2 295.5,284 300.6,282.7 304.4,281.4 308.2,278.9 306.9,276.4 303.1,273.9 301.8,270.1 298.1,268.8 294.3,263.8 294.3,260 291,256.5 291,256.5 295.5,252.4 301.8,251.1 309.4,250.6 316,252 319.8,259 323.6,261.5 326.1,265.3 328.6,264.1 330.5,257.8 331.1,250.2 329.9,246.4 330.5,242.6 328.6,237.6"/><polyline points="328.6,237.6 333.1,239.7 335.9,245.2 338.6,247.9 341.4,249.8 345,251.6 346.5,248 345,244.3 341.4,244.3 338.6,241.5 336.8,236.9 335.9,232.3 336.7,228.1 334.5,224.2 332.8,221.9 326.1,220.8 319.4,219.7 314.9,217.4 308.1,214.1 303.7,207.3 300.3,203.4 297.5,204 302.1,197.6 299.4,193 297.5,187.5 292.9,182 287.4,176.5 283.8,169.2 279.1,166 275.4,159.6 274.1,153.3 272.8,145.8"/><polyline points="343.3,116.5 350.9,117.7 354.6,120.2 360.9,117.7 368.5,113.9 372.3,115.2 378.6,117.7 391.2,119 401.3,120.2 404,121 406.6,122 406.6,126.9 407.9,131 417.2,130.6 424.6,131 427.9,129.8 432.8,128.5 435.6,128.9 436.4,130.6 435.2,132.2 432.8,132.6 429.5,134.2 427,135.5 423,137.5 418.9,139.6 415.6,142 413.6,143.6 414,145.7 415.2,147.3 415.6,149.8 414.8,151.8 413.2,153.4 412.8,155.5"/><polyline points="272.8,145.8 274.1,140.7 276.6,135.7 280,133.2 282.2,132.7 285,129.9 287.2,130.5 287.7,134.4 285,136 283.9,137.7 285.5,141 288.8,143.2 292.1,145.9 296.6,147.6 299.9,148.7 302.6,149.3 303.2,153.1 302.6,156.4 303.7,159.2 303.2,161.4 307.6,160.9 312,162.5 317.5,163.6 314.2,160.9 309.8,158.6 307.1,157 305.9,153.1 304.8,149.8 305.4,147.1 309.8,148.2 314,148.5 316.4,148.7 319.2,152 322,155.3 325.3,158.1 327.5,162.5 328.6,158.1 326.9,153.1 325.3,149.8 324.2,146.5 324.2,142.6 326.4,144.8 331.3,146.5 335.8,148.7 337.4,150.9 341.3,153.7 343.5,152.6 339.6,148.7 336.3,144.8 331.9,143.2 328.6,139.9 324.2,142.1 322.5,140.4 322,137.1 322.5,135.5 320.3,133.2 317.5,130.5 316.4,127.2 318.6,125 322,123.9 324.2,124.4 326.4,126.1 329.7,126.6 333,125.5 337.4,123.9 340.2,121.7 343.3,116.5"/><polyline points="412.8,155.5 411.9,160 411.9,163.4 411.4,171 409.5,181.6 410.1,182.9 415.2,181.6 426.5,179.1 432.9,177.9 442.3,177.2 442.9,181.6 438.2,185.5 432.7,188.3 431.8,191 435.4,192.8 440,197.4 439.1,201.1 440,205.7 444.6,207.5 448.3,208.4 446.5,211.2 441.9,213.9 437.3,215.8 435.4,219.4 437.3,223.1 440,225.9 443.7,228.6 447.4,229.5 451,228.6 452,230.5 445.5,232.3 440,233.2 435.4,235 432.7,233.2 431.8,229.5 429,225.9 426.3,221.3 422.6,219.4 420.8,221.3 421.7,225.9 420.8,231.4 423.5,235 428.1,238.7 432.7,240.6 438.2,240.6 441.9,244.2 445.5,247 451,247.9 456.6,249.7 459.3,253.4 458.4,260.7 452.9,263.5 449.2,264.4 455.7,264.5 454.1,270.8 456.5,277.1 463.6,278.7 468.3,281.8 473.1,286.5 474,293 489,294.4 499.2,293 503,292.6 506.8,300.7 514.4,302 524.5,304.4 528.3,305.7 534.6,309.5 535.8,318.3 549.7,323.4 562.3,329.7 577.5,323.4 590,322.1 592.6,317 595.1,305.7 597.7,294.4 607.8,294.4 617.8,296.1 625.4,295.1 634,298"/><polyline points="491,0 482,3 476,7.6 473.7,11.4 472.5,22.7 473.7,31.5 468.7,35.3 464.9,37.9 461.1,39.1 457.3,42.9 458.6,45.4 464.9,46.7 467.4,50.5 469.9,54.3 473.7,58 477.8,61.8 479,65.6 477.8,70.7 481.6,78.2 485.4,84.5 491.7,88.3 499.2,91.4 506.8,93.9 514.4,96.4 522,97.9 527,97.9 533.3,98.9 542.1,99.7 549.7,100.4 557.3,100.2 563.6,99.7 567.4,96.7 569.9,97.2 574.9,98.4 585,100.9 592.6,100.4 600.2,99.2 605.2,97.9 609,93.4 610.3,88.3 615.3,85.8 620.4,82 625.4,78.2 634,73.9"/><polyline points="414.8,155.9 417.2,154.2 419.3,152.2 420.5,148.9 423.8,145.7 427,143.2 429.5,140.8 431.9,137.1 433.2,134.2 436,133.8 439.3,133 442.6,131 445,129.8 451,124.7 457.3,120 460.4,115.2 463,112 468.3,110.5 474.6,110.5 481.6,107.3 490.4,106.5 499.2,108.5 503,111 509,110 512,109.5 518.2,108.5 522,111 532,116 534.6,118.6 544.7,117.4 554.8,118.6 560,119.3 554.8,119.6 544.7,120.5 534.6,121.8 524.5,124.3 515.6,126.8 511.9,130.6 516.9,132.6 523.2,133.1 525.7,135.2 522,137.7 513.1,136.9 508.1,138.2 499.2,137.7 491.7,136.9 479,138.2 476.2,140.5 471.5,142.1 463.6,142.8 457.3,140.5 454.1,136.5 446.2,137.3 445,138.3 442.6,138.7 440.1,139.6 436,139.1 433.2,139.6 431.1,142.4 429.5,144.9 427,147.3 425.4,148.5 422.6,149.8 420.5,151.4 420.1,154.2 418.1,156.3 415.6,158.3 411.9,160 412.8,155.5"/><polyline points="295.8,205.1 295.8,211.8 301.4,216.3 307,220.8 311.5,225.3 313.2,228.7 314.9,232 322.7,233.7 330.6,234.3 332.8,237.6"/><polyline points="331.7,244.4 329.5,239.9 322.7,237.6 317.1,236.5 314.9,234.3 308.1,228.7 302.5,228.1 302.5,224.2 296.9,221.4 291.3,219.7 284.6,215.2 280.1,209.6"/><polyline points="310,362.7 317.2,358.6 318.5,363.8 320.4,365.7 328.6,366.3 334.9,367.5 339.3,368.8 340,373.2 343.8,372.6 353.2,372 355.1,369.4 361.4,370.1 364,369.4 367.7,370.1 371.5,371.3 372.2,373.2 385.4,373.2 387.9,375.1 390.4,373.9 396,373.2 401.8,373.3 403.1,377.1 399.3,380.9 404.3,384.6 417,380.9 422,375.8 424.5,374.5 423.3,379.6 424.5,382.1 419.5,387.2 411.9,387.2 404.3,388.4 396.8,391 391.7,390.3 389.2,389 384.1,389 380.4,390.9 374,391.5 359.5,391.5 358.9,385.8 352.6,384.6 348.8,383.3 343.8,380.2 336.2,380.8 328.6,380.2 321,378.9 316,378.3 310,378.2 309,372 310,362.7"/><polygon points="330,396 331.5,397.5 330.5,399"/><polygon points="159.3,166 166.8,164.7 169.4,167.2 165.6,169.7 168.1,174.8 171.9,178.6 175.7,182.3 174.4,185.6 170.6,183.6 166.8,178.6 163,172.3 160.5,168.5"/><polygon points="190,227 196,226.5 199,230 197,236 202,240 200,246 193,245 186,241 183,236 187,232"/><polygon points="195,253 201,254 207,262 205,265 199,262 194,258"/><polygon points="400.6,191.9 405.2,190.1 408.8,188.3 414.3,187.3 420.8,188.3 423.5,192.8 426.3,195.6 429,199.3 430,202.9 426.3,205.7 421.7,204.8 417.1,202.9 412.5,201.1 407.9,199.3 403.3,198.3 400.6,195.6"/><polygon points="400.6,225 407,223.1 413.4,225 414.3,229.5 412.5,235 411.6,240.6 407.9,243.3 403.3,239.6 402.4,235 405.2,232.3 401.5,228.6"/><polygon points="350,122.5 355,122 357.6,125 357,130 353,133 349,131 347.5,127"/><polygon points="383,137.5 388,135.7 393,137.5 390,140.7 385,140.5"/><polygon points="392,151 397,148.3 405,149 405.6,152 400,154.6 394,154"/><polygon points="367.9,159.7 371.6,158.8 376,160.3 379.8,162.2 383,157.8 384.3,157.2 382.4,162.9 381.1,168.5 379.2,169.2 377.3,166.6 376,164.1 374.8,167.9 373.5,168.5 372.9,166 371.6,165.4 369.1,166 367.9,162.9"/><polygon points="345.5,208 349,206.5 353,209 356,213 354,216.6 350,215 347,212"/><polygon points="365,182 368,179.8 369,182 367,184.9"/><polygon points="285,325 289,327 291.5,333 289,337 285,335 283.5,330"/><polygon points="194,211 199,212 199,220 196,223 193,218"/><polygon points="498,319.6 499.2,322.1 496.7,327.2 491.7,333.5 486.6,338.5 482.8,342.3 479,341 480.3,333.5 485.4,327.2 491.7,323.4 495.5,319.6"/><polygon points="597,230 600,229 602,233 601,240 604,246 602,249 598,244 596,236"/><polygon points="620,242 624,241 628,246 631,252 634,256 630,257 625,252 621,247"/><polygon points="459,349 461,351 460,358 462,363 459,367 457,362 456,355"/><polygon points="470,296 478,294 484,293 478,297 472,299"/><polygon points="432,260.3 436.4,258.8 441.4,258.4 445.2,260.3 450.3,260.9 451.5,262.8 449,264.1 444,264.7 440.2,266 436.4,265.3 432.6,263.4"/><polygon points="408.6,273 412,270 418,267 422.5,264.7 421,267.5 415,271 410,274.5"/><polygon points="335.1,240 336.4,243.8 338.9,245.7 343.9,245.7 349,244.4 351.5,246.3 350.9,250.1 349,252.6 346.5,252 343.9,251.4 341.4,250.1 338.9,247.6 335.7,245"/><polygon points="355.9,252.6 359.1,251.4 361.6,253.9 364.1,255.8 366,256.4 366.6,260.8 367.9,263.3 365.4,264.6 362.9,262.1 359.1,258.9 355.9,255.8"/><polygon points="367.9,266.5 371.7,267.1 375.5,269 378,270.3 376.7,272.8 373.6,272.2 370.4,270.3 368.5,268.4"/><polygon points="380.5,274.5 386.8,274 384,277.9"/><polygon points="362.2,274 367.9,276.5 365.4,280.4 362.2,280.4"/><polygon points="340,267 344.6,266.5 342,271 339,273.4"/><polygon points="344,277 347.7,276 346,281 343.3,282.9"/><polygon points="345.5,288.5 349.6,288.2 349,292 346.5,292.6"/><polygon points="354,295.5 357,295.1 359.7,299.5 357,300.8 355,298.5"/><polygon points="371.5,296 374,292.5 378,291 380.5,290.7 379,295 376,297.8 372.5,298.2"/><polygon points="383,293 386,290 390,288.8 393,291 392.5,295 389,299.5 385.5,300.8 383,297"/><polygon points="341.5,311 343,307.5 347,307 349,305 351.5,303.9 352.8,305 350,308.5 348.5,310.5 344,313.4"/><polygon points="371,314.5 374,311 376.7,309.6 375,312.5 372.5,314.7"/><polygon points="380,306 382,305.8 384.3,310 383,313.4 380.5,311"/><polygon points="383.5,322 387,321 388.7,324 387.5,327.9 384.5,327 384,324.5"/><polygon points="397.6,325.5 400,324.7 402.6,326 399.5,326.6"/><polygon points="399.4,306 402,303.3 405,304 402,307.7"/><polygon points="408,315 413,313 416,316 411,318"/><polygon points="451,284 454,283 455,287 452,288"/><polygon points="464,127.5 468,126.9 471.9,127.5 468,130.5 465,130"/><polygon points="470.3,133 476,132.6 483,134 478,137.5 472,138"/><polygon points="35.5,6.3 40,6 42,7.5 40.5,9.5 36,9.3 35,7.8"/><polygon points="47,1.3 50.2,1 53.3,1.9 55.2,1.3 57.1,2.5 60.3,4.4 66.6,5 74.8,6.3 67.9,6.9 60.3,6.3 55.2,5.7 53.3,3.8 48.9,3.2 47,2.3"/><polygon points="56,12.3 60,12.6 68,13.5 72,12 75,13 72,15.5 66,16.2 59,15.8 56,14.5"/><polygon points="80.5,22.7 83,23.3 86.8,25.2 93.1,26.5 90.6,27.1 85.5,26.5 81.7,24.6 80.5,24"/><polygon points="302,268 306,267 307,271 303,272"/><polyline points="276.6,0 284.2,5 289.2,10.1 291.2,13.9 286.7,20.2 281.7,25.2 274.1,26.5 271.1,30.3 270.3,39.1 273.6,44.2 272.1,49.2 266.5,52.5 270.3,56.8 275.4,61.8 284.2,66.1 288,73.2 291.2,80.3 289.2,85.8 288.7,97.2"/><polyline points="218.6,118.6 226.1,117.4 236.2,116.6 243.8,114.8 247.6,109 251.4,106 260.2,105.5 266.5,106.8 276.6,106 280.4,103.5 281.7,97.9 288.7,97.2 299.3,95.9 309.4,95.4 318,94.6 323.6,92.1 329.9,89.6 331.1,87.8 337.5,87.1 341.2,88.8 347.5,87.8 351.3,93.4 356.4,95.9 361.4,94.6 366.5,97.2 375.3,100.9 381.6,100.4 389.2,98.4 396.8,97.9 404.3,96.7 410.6,95.4 410.6,87.1 406.9,80.8 410.6,78.2 415.7,79.5 416.9,77 424.5,73.2 425.8,68.1 434.6,66.9 442.2,62.6 451,61.8 456.1,64.4 462.4,68.1 467.4,66.1 476,65.6 478.5,65.5"/><polyline points="415.7,79.5 422,82 425.8,84.5 427,89.6 428.3,94.6 424.5,97.2 418.2,100.9 416.9,108.5 418.2,113.6 413.2,120 410,123"/><polyline points="158.4,53.6 163.1,41 167.8,34.7 171,37.9 172.6,41 180.4,39.4 186.8,44.2 189.9,50.5 194.6,52.1 197.8,56.8 199.6,63.1 199.6,65.6 198.4,70.7 195.9,75.7 197.1,80.8 194.6,87.1 197.1,90.9 195.9,95.9 197.1,100.9 199.6,106 202.2,111 205,116 210,118 215,118.6 218.6,118.6"/><polyline points="212.3,118 214.8,121.8 215.5,128.1 212.3,131.9 208.5,134.4 204.7,136.9 202.9,143.2 199.6,150.8 195.9,153.3 189.5,154.6 185.8,158.4 187.8,164.7 183.2,169.7 179.5,172.3"/><polyline points="522.5,98 521,104 519,108.5"/><polyline points="71.6,12 77,12.6 83,13.2 88,16.4 95.6,20.2"/><polygon points="200,104 204,103 205.5,108 204,114 201,115 199.5,110"/><polygon points="210,111 214,110.5 217,113 216,117.5 212,118 209.5,115"/></g><g font-family="Liberation Sans, Arial, sans-serif" font-size="7.5" font-weight="bold" fill="#000" text-anchor="middle"><text x="13.8" y="195">1</text><text x="367.5" y="207.8">3</text><text x="368.2" y="254">6</text><text x="368.4" y="300.3">2</text><text x="409.3" y="299">1</text><text x="449.6" y="298.4">10</text><text x="490" y="297">3</text><text x="410.2" y="345">1</text><text x="451.2" y="344">1</text><text x="492" y="342.4">6</text><text x="532.7" y="341">2</text><text x="453.3" y="389.6">1</text><text x="494.4" y="388.8">2</text><text x="535.8" y="387">1</text><text x="496.3" y="435">1</text><text x="538.3" y="433">1</text><text x="0.1" y="333.5">1</text></g></svg>
<svg width="634" height="33" viewBox="0 0 634 33" style="position:absolute;left:0;top:457px" font-family="DejaVu Sans, sans-serif" font-weight="200" font-size="11.2" stroke-width="0.25">
<text x="0.3" y="13.0" fill="#000" stroke="#000" textLength="92.1" lengthAdjust="spacingAndGlyphs">Rain/Snowfall</text>
<text x="99.6" y="13.0" fill="#000" stroke="#000" textLength="27.1" lengthAdjust="spacingAndGlyphs">rate</text>
<text x="134.9" y="13.0" fill="#000" stroke="#000" textLength="37.2" lengthAdjust="spacingAndGlyphs">[mm]</text>
<text x="182.9" y="13.0" fill="#000" stroke="#000" textLength="23.3" lengthAdjust="spacingAndGlyphs">GFS</text>
<text x="215.7" y="13.0" fill="#000" stroke="#000" textLength="28.4" lengthAdjust="spacingAndGlyphs">0.25</text>
<text x="363.3" y="13.0" fill="#000" stroke="#000" textLength="15.0" lengthAdjust="spacingAndGlyphs">Th</text>
<text x="387.6" y="13.0" fill="#000" stroke="#000" textLength="90.0" lengthAdjust="spacingAndGlyphs">12-02-2026</text>
<text x="485.8" y="13.0" fill="#000" stroke="#000" textLength="42.5" lengthAdjust="spacingAndGlyphs">09..09</text>
<text x="537.7" y="13.0" fill="#000" stroke="#000" textLength="23.7" lengthAdjust="spacingAndGlyphs">UTC</text>
<text x="569.7" y="13.0" fill="#000" stroke="#000" textLength="66.4" lengthAdjust="spacingAndGlyphs">(18+111)</text>
<text x="0.3" y="28.5" fill="#000" stroke="#000" textLength="24.2" lengthAdjust="spacingAndGlyphs">Rain</text>
<text x="34.2" y="28.5" fill="#aaffff" stroke="#aaffff" textLength="16.4" lengthAdjust="spacingAndGlyphs">0.1</text>
<text x="64.5" y="28.5" fill="#55ddff" stroke="#55ddff">1</text>
<text x="75.2" y="28.5" fill="#33bbff" stroke="#33bbff">2</text>
<text x="83.1" y="28.5" fill="#33bbff" stroke="#33bbff">5</text>
<text x="104.9" y="28.5" fill="#2299ff" stroke="#2299ff" textLength="13.5" lengthAdjust="spacingAndGlyphs">10</text>
<text x="121.8" y="28.5" fill="#1a66ee" stroke="#1a66ee" textLength="13.9" lengthAdjust="spacingAndGlyphs">20</text>
<text x="138.2" y="28.5" fill="#2233dd" stroke="#2233dd" textLength="14.9" lengthAdjust="spacingAndGlyphs">30</text>
<text x="155.6" y="28.5" fill="#5522cc" stroke="#5522cc" textLength="15.0" lengthAdjust="spacingAndGlyphs">40</text>
<text x="173.1" y="28.5" fill="#6633bb" stroke="#6633bb" textLength="13.9" lengthAdjust="spacingAndGlyphs">50</text>
<text x="195.6" y="28.5" fill="#000" stroke="#000" textLength="34.5" lengthAdjust="spacingAndGlyphs">Snow:</text>
<text x="230.5" y="28.5" fill="#ffccff" stroke="#ffccff" textLength="16.2" lengthAdjust="spacingAndGlyphs">0.1</text>
<text x="261.1" y="28.5" fill="#ffaaff" stroke="#ffaaff">1</text>
<text x="270.9" y="28.5" fill="#ffaaff" stroke="#ffaaff">2</text>
<text x="291.5" y="28.5" fill="#ff77ff" stroke="#ff77ff">5</text>
<text x="305.3" y="28.5" fill="#ff44ff" stroke="#ff44ff" textLength="14.4" lengthAdjust="spacingAndGlyphs">10</text>
<text x="323.0" y="28.5" fill="#ee00ee" stroke="#ee00ee" textLength="14.4" lengthAdjust="spacingAndGlyphs">20</text>
<text x="340.7" y="28.5" fill="#cc00cc" stroke="#cc00cc" textLength="14.4" lengthAdjust="spacingAndGlyphs">30</text>
<text x="359.0" y="28.5" fill="#aa00aa" stroke="#aa00aa" textLength="14.1" lengthAdjust="spacingAndGlyphs">40</text>
<text x="375.0" y="28.5" fill="#880088" stroke="#880088" textLength="14.6" lengthAdjust="spacingAndGlyphs">50</text>
<text x="487.0" y="28.5" fill="#15259a" stroke="#15259a" textLength="125.9" lengthAdjust="spacingAndGlyphs">©weatheronline.co.uk</text>
</svg>
</div></body></html>
